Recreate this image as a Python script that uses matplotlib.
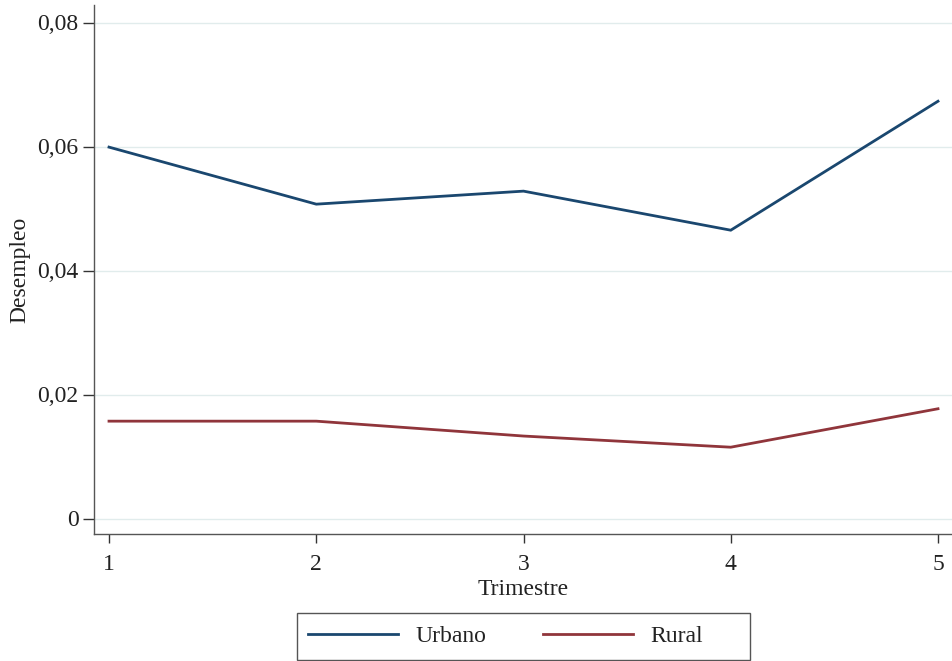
import matplotlib
matplotlib.use("Agg")
import matplotlib.pyplot as plt
from matplotlib.patches import Rectangle

trimestre = [1, 2, 3, 4, 5]
urbano = [0.0599, 0.0507, 0.0528, 0.0465, 0.0673]
rural = [0.0157, 0.0157, 0.0133, 0.0115, 0.0177]
yticks = [0, 0.02, 0.04, 0.06, 0.08]
ytick_labels = ["0", "0,02", "0,04", "0,06", "0,08"]

plt.rcParams['font.family'] = ['Liberation Serif', 'DejaVu Serif']

W, H = 953, 661
fig = plt.figure(figsize=(W/100, H/100), dpi=100)
ax = fig.add_axes([94/W, 127/H, 1 - 94/W, (534 - 5)/H])

c_urb = '#1a476f'
c_rur = '#90353b'
ax.plot(trimestre, urbano, color=c_urb, lw=2.0, label='Urbano', solid_joinstyle='miter')
ax.plot(trimestre, rural, color=c_rur, lw=2.0, label='Rural', solid_joinstyle='miter')

ax.set_xlim(1 - 15/207.25, 5 + 15/207.25)
ax.set_ylim(-(534 - 518.5)/6200, (518.5 - 5)/6200)
ax.set_yticks(yticks)
ax.set_yticklabels(ytick_labels)
ax.set_xticks(trimestre)
ax.grid(axis='y', color='#e1ecec', lw=1)
ax.set_axisbelow(True)

for s in ['top', 'right']:
    ax.spines[s].set_visible(False)
for s in ['left', 'bottom']:
    ax.spines[s].set_color('#555555')
    ax.spines[s].set_linewidth(1)

fs = 17
ax.tick_params(axis='y', length=8, width=1, color='#333333', labelsize=fs, labelcolor='#222222', pad=3)
ax.tick_params(axis='x', length=6.5, width=1, color='#333333', labelsize=fs, labelcolor='#222222', pad=8)

ax.set_ylabel('Desempleo', fontsize=fs, color='#222222', labelpad=5)
ax.set_xlabel('Trimestre', fontsize=fs, color='#222222', labelpad=3)

unit = fs * 100 / 72
leg = fig.legend(*ax.get_legend_handles_labels(), loc='center',
                 bbox_to_anchor=(505.5/W, (H - 636.5)/H), ncol=2, fontsize=fs,
                 frameon=False, handlelength=90/unit, handletextpad=17/unit,
                 columnspacing=57/unit, borderpad=0, borderaxespad=0)
for t in leg.get_texts():
    t.set_color('#222222')
fig.patches.append(Rectangle((297/W, (H - 660)/H), (750 - 297)/W, 47/H,
                             transform=fig.transFigure, fill=False,
                             edgecolor='#555555', lw=1))

fig.savefig('out.png', dpi=100, facecolor='white')
